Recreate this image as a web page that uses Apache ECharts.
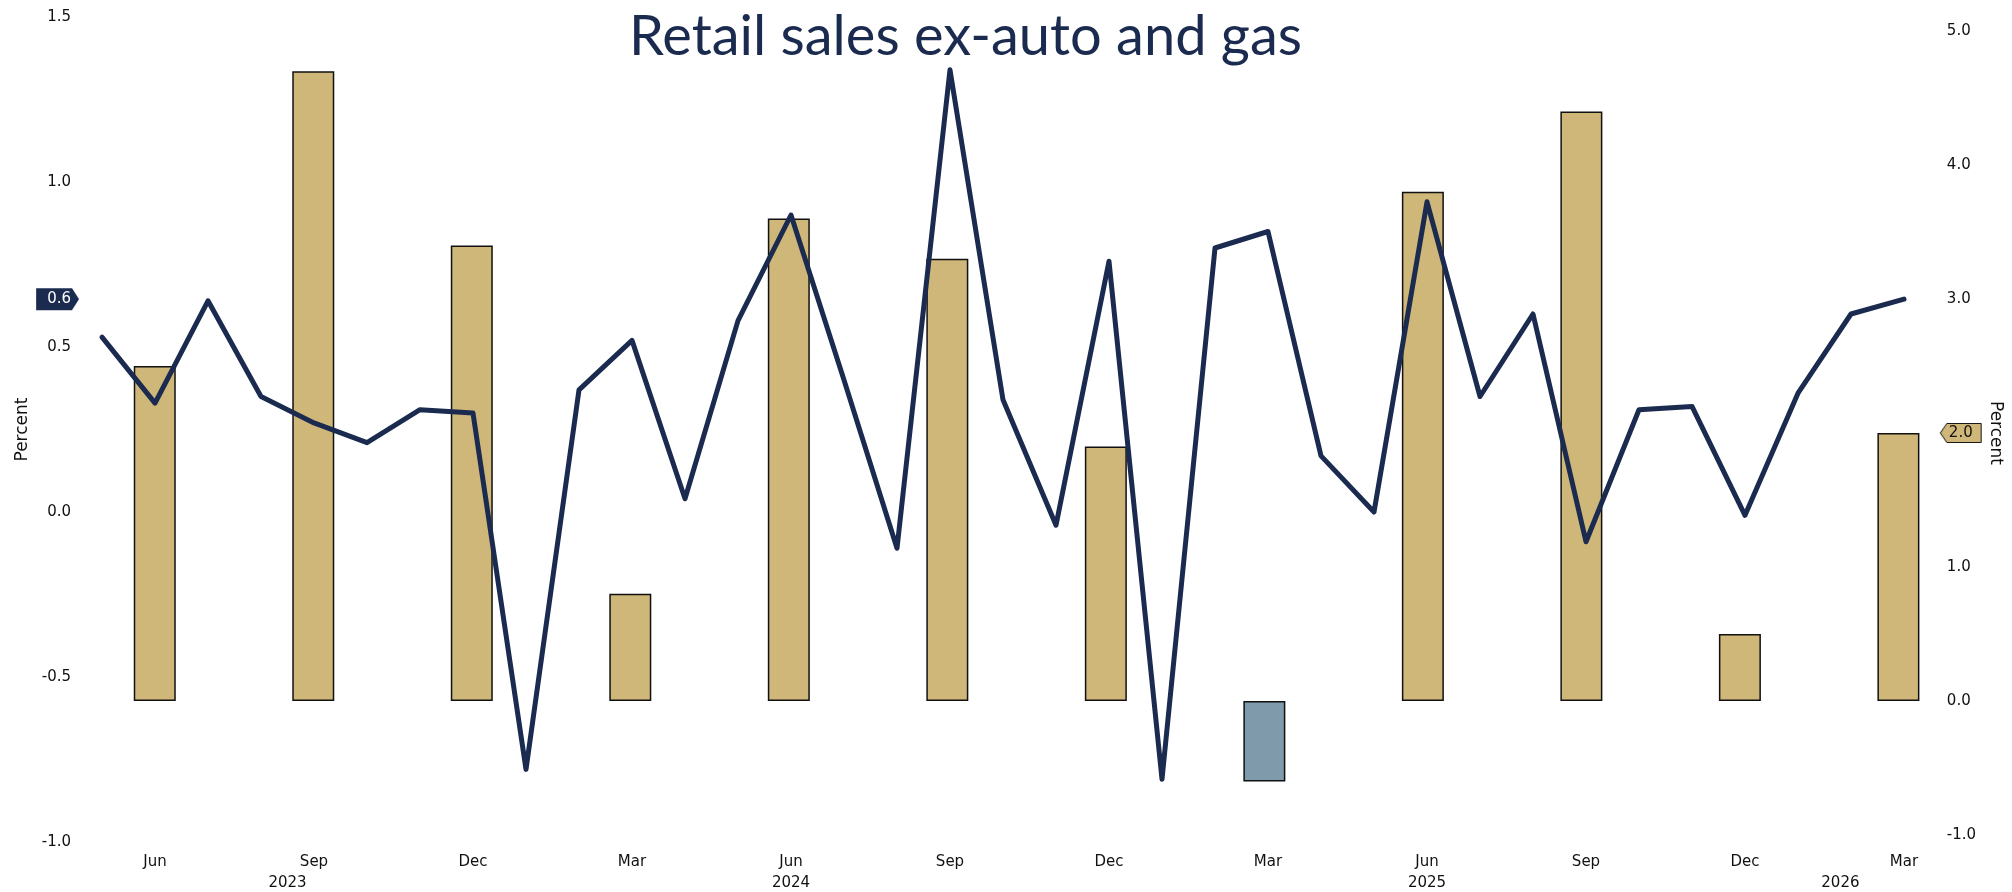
<!DOCTYPE html>
<html>
<head>
<meta charset="utf-8">
<title>Retail sales ex-auto and gas</title>
<script src="https://cdn.jsdelivr.net/npm/echarts@6.0.0/dist/echarts.min.js"></script>
<style>
  html, body { margin: 0; padding: 0; background: #fff; }
  #chart { width: 2012px; height: 892px; }
</style>
</head>
<body>
<div id="chart"></div>
<script>
// monthly categories, May 2023 .. Mar 2026
const months = [
  'May 2023', 'Jun 2023', 'Jul 2023', 'Aug 2023', 'Sep 2023', 'Oct 2023', 'Nov 2023', 'Dec 2023',
  'Jan 2024', 'Feb 2024', 'Mar 2024', 'Apr 2024', 'May 2024', 'Jun 2024', 'Jul 2024', 'Aug 2024',
  'Sep 2024', 'Oct 2024', 'Nov 2024', 'Dec 2024',
  'Jan 2025', 'Feb 2025', 'Mar 2025', 'Apr 2025', 'May 2025', 'Jun 2025', 'Jul 2025', 'Aug 2025',
  'Sep 2025', 'Oct 2025', 'Nov 2025', 'Dec 2025',
  'Jan 2026', 'Feb 2026', 'Mar 2026'
];

// month over month, left axis
const momValues = [
  0.53, 0.33, 0.64, 0.35, 0.27, 0.21, 0.31, 0.30,
  -0.78, 0.37, 0.52, 0.04, 0.58, 0.90, 0.40, -0.11,
  1.34, 0.34, -0.04, 0.76,
  -0.81, 0.80, 0.85, 0.17, 0.00, 0.94, 0.35, 0.60,
  -0.09, 0.31, 0.32, -0.01,
  0.36, 0.60, 0.645
];

// quarterly annualized, right axis
const quarters = [
  'Jun 2023', 'Sep 2023', 'Dec 2023', 'Mar 2024', 'Jun 2024', 'Sep 2024',
  'Dec 2024', 'Mar 2025', 'Jun 2025', 'Sep 2025', 'Dec 2025', 'Mar 2026'
];
const qtrValues = [2.5, 4.7, 3.4, 0.8, 3.6, 3.3, 1.9, -0.6, 3.8, 4.4, 0.5, 2.0];

const leftTicks = { min: -1, max: 1.5, interval: 0.5 };
const rightTicks = { min: -1, max: 5, interval: 1 };

// year labels sit under the middle of each year span (category index)
const yearLabels = ['2023', '2024', '2025', '2026'];
const yearPos = [3.5, 13, 25, 32.8];

const NAVY = '#1b2b4f';
const TAN = '#cfb679';
const SLATE = '#7f9bab';
const TXT = '#111';
const FONT = 'DejaVu Sans';

// little pointed tags used as label backgrounds
function makeTag(w, h, tip, side, fill, stroke) {
  const c = document.createElement('canvas');
  c.width = w; c.height = h;
  const ctx = c.getContext('2d');
  const o = stroke ? 0.5 : 0;
  ctx.beginPath();
  if (side === 'right') {
    ctx.moveTo(o, o);
    ctx.lineTo(w - tip, o);
    ctx.lineTo(w - o, h / 2);
    ctx.lineTo(w - tip, h - o);
    ctx.lineTo(o, h - o);
  } else {
    ctx.moveTo(w - o, o);
    ctx.lineTo(tip, o);
    ctx.lineTo(o, h / 2);
    ctx.lineTo(tip, h - o);
    ctx.lineTo(w - o, h - o);
  }
  ctx.closePath();
  ctx.fillStyle = fill;
  ctx.fill();
  if (stroke) {
    ctx.strokeStyle = stroke;
    ctx.lineWidth = 1;
    ctx.stroke();
  }
  return c;
}

const barData = months.map(m => {
  const i = quarters.indexOf(m);
  if (i < 0) return '-';
  const v = qtrValues[i];
  return { value: v, itemStyle: { color: v < 0 ? SLATE : TAN } };
});

const lastMom = momValues[momValues.length - 1];
const lastQtr = qtrValues[qtrValues.length - 1];

const chart = echarts.init(document.getElementById('chart'));

const option = {
  animation: false,
  backgroundColor: '#fff',
  title: {
    text: 'Retail sales ex-auto and gas',
    left: 624,
    top: 4,
    textStyle: {
      fontFamily: 'Lato',
      fontWeight: 'normal',
      fontSize: 56,
      color: NAVY
    }
  },
  grid: [
    { left: 75.5, right: 81.5, top: 17, bottom: 50 },
    { left: 75.5, right: 81.5, top: 31, bottom: 57 }
  ],
  xAxis: [
    {
      type: 'category',
      gridIndex: 0,
      data: months,
      boundaryGap: true,
      axisLine: { show: false },
      axisTick: { show: false },
      axisLabel: {
        interval: (idx, val) => quarters.indexOf(val) >= 0,
        formatter: v => v.split(' ')[0],
        margin: 13,
        color: TXT,
        fontFamily: FONT,
        fontSize: 15
      }
    },
    {
      type: 'value',
      gridIndex: 0,
      min: -0.5,
      max: months.length - 0.5,
      position: 'bottom',
      axisLine: { show: false },
      axisTick: { show: false },
      splitLine: { show: false },
      axisLabel: {
        customValues: yearPos,
        formatter: v => yearLabels[yearPos.indexOf(v)] || '',
        margin: 34,
        color: TXT,
        fontFamily: FONT,
        fontSize: 15
      }
    },
    {
      type: 'category',
      gridIndex: 1,
      data: months,
      boundaryGap: true,
      show: false
    }
  ],
  yAxis: [
    {
      type: 'value',
      gridIndex: 0,
      position: 'left',
      min: leftTicks.min,
      max: leftTicks.max,
      interval: leftTicks.interval,
      name: 'Percent',
      nameLocation: 'middle',
      nameGap: 44,
      nameTextStyle: { color: TXT, fontFamily: FONT, fontSize: 17 },
      axisLine: { show: false },
      axisTick: { show: false },
      splitLine: { show: false },
      axisLabel: {
        formatter: v => v.toFixed(1),
        margin: 4.5,
        color: TXT,
        fontFamily: FONT,
        fontSize: 15
      }
    },
    {
      type: 'value',
      gridIndex: 1,
      position: 'right',
      min: rightTicks.min,
      max: rightTicks.max,
      interval: rightTicks.interval,
      name: 'Percent',
      nameLocation: 'middle',
      nameGap: 56,
      nameRotate: -90,
      nameTextStyle: { color: TXT, fontFamily: FONT, fontSize: 17 },
      axisLine: { show: false },
      axisTick: { show: false },
      splitLine: { show: false },
      axisLabel: {
        formatter: v => v.toFixed(1),
        margin: 22,
        color: TXT,
        fontFamily: FONT,
        fontSize: 15
      }
    },
    {
      // end value tag, line
      type: 'value',
      gridIndex: 0,
      position: 'left',
      min: leftTicks.min,
      max: leftTicks.max,
      axisLine: { show: false },
      axisTick: { show: false },
      splitLine: { show: false },
      axisLabel: {
        customValues: [lastMom],
        formatter: v => v.toFixed(1),
        margin: -3.5,
        color: '#fff',
        fontFamily: FONT,
        fontSize: 15,
        padding: [4, 8, 3, 11],
        backgroundColor: { image: makeTag(43, 24, 7, 'right', NAVY) }
      }
    },
    {
      // end value tag, bars
      type: 'value',
      gridIndex: 1,
      position: 'right',
      min: rightTicks.min,
      max: rightTicks.max,
      axisLine: { show: false },
      axisTick: { show: false },
      splitLine: { show: false },
      axisLabel: {
        customValues: [lastQtr],
        formatter: v => v.toFixed(1),
        margin: 15,
        color: TXT,
        fontFamily: FONT,
        fontSize: 15,
        padding: [3, 9, 2, 9],
        backgroundColor: { image: makeTag(42, 22, 7, 'left', TAN, '#111') }
      }
    }
  ],
  series: [
    {
      name: 'Quarterly',
      type: 'bar',
      xAxisIndex: 2,
      yAxisIndex: 1,
      data: barData,
      barWidth: 42,
      z: 1,
      itemStyle: { borderColor: '#111', borderWidth: 1.5 }
    },
    {
      name: 'Monthly',
      type: 'line',
      xAxisIndex: 0,
      yAxisIndex: 0,
      data: momValues,
      symbol: 'none',
      z: 3,
      lineStyle: { color: NAVY, width: 5, cap: 'round', join: 'round' }
    }
  ]
};

chart.setOption(option);
</script>
</body>
</html>
